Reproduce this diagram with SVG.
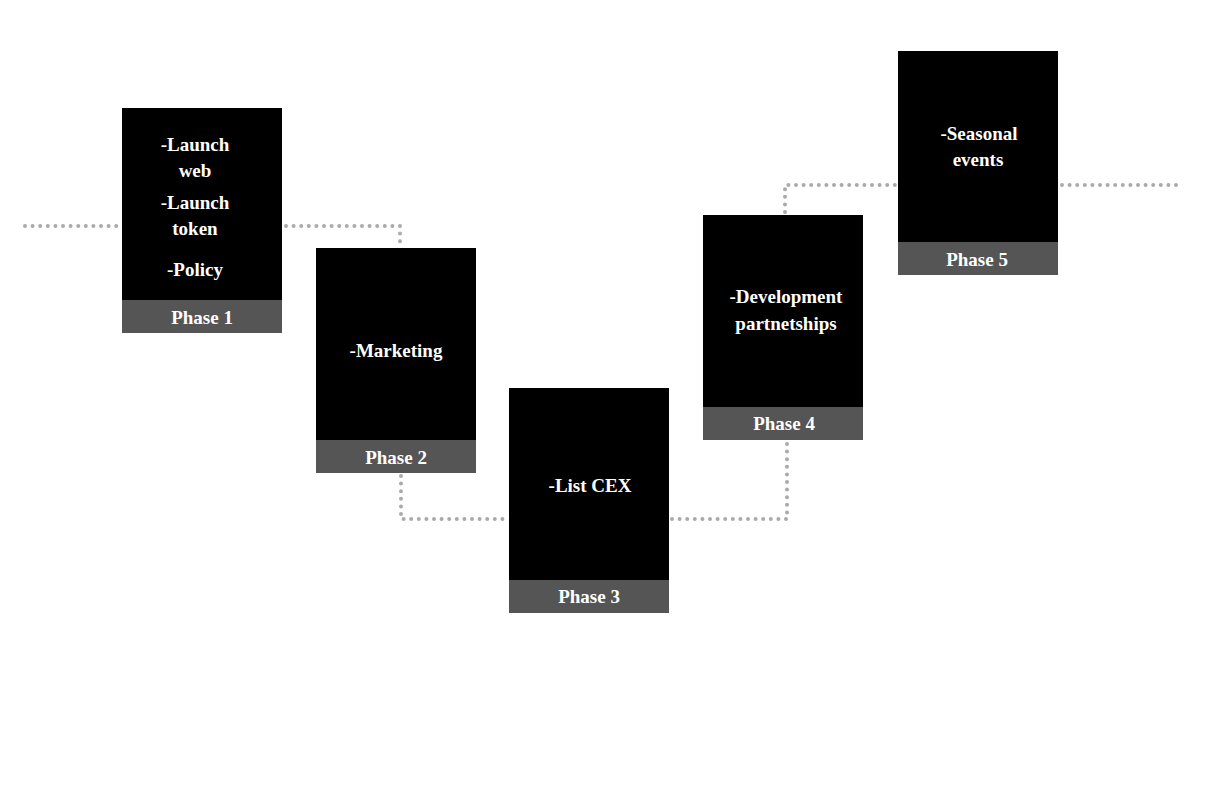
<svg xmlns="http://www.w3.org/2000/svg" width="1205" height="804" viewBox="0 0 1205 804">
<style>
.box{fill:#000}
.bar{fill:#555}
.t{font-family:"Liberation Serif",serif;font-weight:bold;font-size:19px;fill:#fff;text-anchor:middle}
.c{fill:none;stroke:#aaa;stroke-width:4;stroke-linecap:round;stroke-dasharray:0 7.6}
</style>
<rect width="1205" height="804" fill="#fff"/>
<g id="connectors">
<path class="c" d="M25 226H118"/>
<path class="c" d="M286 226H400V246"/>
<path class="c" d="M401 476V519H506"/>
<path class="c" d="M672 519H787V443"/>
<path class="c" d="M785 212V185H895"/>
<path class="c" d="M1062 185H1178"/>
</g>
<g id="phase1">
<rect class="box" x="122" y="108" width="160" height="225"/>
<rect class="bar" x="122" y="300" width="160" height="33"/>
<text class="t" x="195" y="151">-Launch</text>
<text class="t" x="195" y="177">web</text>
<text class="t" x="195" y="209">-Launch</text>
<text class="t" x="195" y="235">token</text>
<text class="t" x="195" y="276">-Policy</text>
<text class="t" x="202" y="324">Phase 1</text>
</g>
<g id="phase2">
<rect class="box" x="316" y="248" width="160" height="225"/>
<rect class="bar" x="316" y="440" width="160" height="33"/>
<text class="t" x="396" y="357">-Marketing</text>
<text class="t" x="396" y="464">Phase 2</text>
</g>
<g id="phase3">
<rect class="box" x="509" y="388" width="160" height="225"/>
<rect class="bar" x="509" y="580" width="160" height="33"/>
<text class="t" x="590" y="492">-List CEX</text>
<text class="t" x="589" y="603">Phase 3</text>
</g>
<g id="phase4">
<rect class="box" x="703" y="215" width="160" height="225"/>
<rect class="bar" x="703" y="407" width="160" height="33"/>
<text class="t" x="786" y="303">-Development</text>
<text class="t" x="786" y="330">partnetships</text>
<text class="t" x="784" y="430">Phase 4</text>
</g>
<g id="phase5">
<rect class="box" x="898" y="51" width="160" height="224"/>
<rect class="bar" x="898" y="242" width="160" height="33"/>
<text class="t" x="979" y="140">-Seasonal</text>
<text class="t" x="978" y="166">events</text>
<text class="t" x="977" y="266">Phase 5</text>
</g>
</svg>
